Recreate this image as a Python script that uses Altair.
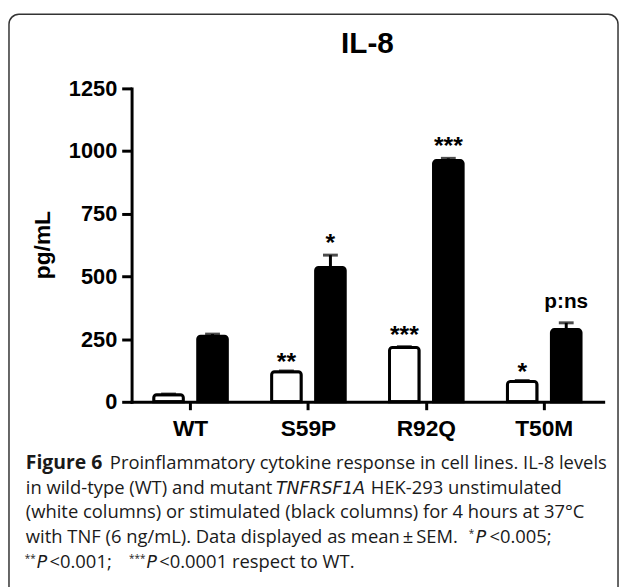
import altair as alt
import pandas as pd

# ---------------- data ----------------
categories = ["WT", "S59P", "R92Q", "T50M"]
conditions = ["Unstimulated", "Stimulated"]
unstim_mean = [28, 120, 217, 81]
unstim_sem = [3, 3, 3, 4]
stim_mean = [262, 536, 962, 288]
stim_sem = [8, 49, 9, 27]
unstim_sig = ["", "**", "***", "*"]
stim_sig = ["", "*", "***", "p:ns"]
unstim_sig_y = [0, 127, 233, 87]
stim_sig_y = [0, 603, 990, 374]
y_ticks = [0, 250, 500, 750, 1000, 1250]

rows = []
for i, c in enumerate(categories):
    rows.append(dict(cat=c, cond="Unstimulated", mean=unstim_mean[i],
                     top=unstim_mean[i] + unstim_sem[i], sig=unstim_sig[i], sig_y=unstim_sig_y[i]))
    rows.append(dict(cat=c, cond="Stimulated", mean=stim_mean[i],
                     top=stim_mean[i] + stim_sem[i], sig=stim_sig[i], sig_y=stim_sig_y[i]))
df = pd.DataFrame(rows)

W, H = 477, 317
BOLD = "Liberation Sans"
CAP = "Open Sans"
ITAL = "DejaVu Sans"

x_axis = alt.Axis(title=None, labelAngle=0)
y_axis = alt.Axis(title=None, values=y_ticks, format="d")
X = alt.X("cat:N", sort=categories, scale=alt.Scale(paddingInner=0, paddingOuter=0), axis=x_axis)
XO = alt.XOffset("cond:N", sort=conditions, scale=alt.Scale(paddingInner=0.326, paddingOuter=0.503))
yscale = alt.Scale(domain=[0, 1250], nice=False, zero=True)

base = alt.Chart(df)

bars = base.mark_bar(stroke="black", strokeWidth=3, cornerRadiusEnd=3).encode(
    x=X, xOffset=XO,
    y=alt.Y("mean:Q", scale=yscale, axis=y_axis),
    fill=alt.Fill("cond:N", scale=alt.Scale(domain=conditions, range=["white", "black"]), legend=None),
)

err = base.mark_rule(color="black", strokeWidth=3).encode(
    x=X, xOffset=XO,
    y=alt.Y("mean:Q", scale=yscale, axis=y_axis), y2="top:Q",
)

caps = base.mark_tick(color="black", thickness=3, size=15).encode(
    x=X, xOffset=XO,
    y=alt.Y("top:Q", scale=yscale, axis=y_axis),
)

stars = base.transform_filter("indexof(datum.sig, '*') >= 0").mark_text(
    font=BOLD, fontWeight="bold", fontSize=25, color="black", baseline="alphabetic", align="center"
).encode(x=X, xOffset=XO, y=alt.Y("sig_y:Q", scale=yscale, axis=y_axis), text="sig:N")

ns = base.transform_filter("datum.sig == 'p:ns'").mark_text(
    font=BOLD, fontWeight="bold", fontSize=21, color="black", baseline="alphabetic", align="center"
).encode(x=X, xOffset=XO, y=alt.Y("sig_y:Q", scale=yscale, axis=y_axis), text="sig:N")

one = alt.Data(values=[{"k": 1}])

box = alt.Chart(one).mark_rect(fillOpacity=0, stroke="#333333", strokeWidth=1.5, cornerRadius=10).encode(
    x=alt.value(-124), x2=alt.value(492), y=alt.value(-75), y2=alt.value(530)
)

title = alt.Chart(one).mark_text(text="IL-8", font=BOLD, fontWeight="bold", fontSize=30,
                                 color="black", align="center", baseline="alphabetic").encode(
    x=alt.value(W / 2), y=alt.value(-36))

ylabel = alt.Chart(one).mark_text(text="pg/mL", font=BOLD, fontWeight="bold", fontSize=23, angle=270,
                                  color="black", align="center", baseline="alphabetic").encode(
    x=alt.value(-83), y=alt.value(H / 2))

# caption segments: (text, style, page x, line index)
caption = [
    ("Figure 6", "bold", 26, 0),
    ("Proinflammatory cytokine response in cell lines. IL-8 levels", "normal", 111, 0),
    ("in wild-type (WT) and mutant", "normal", 26, 1),
    ("TNFRSF1A", "italic", 279, 1),
    ("HEK-293 unstimulated", "normal", 375, 1),
    ("(white columns) or stimulated (black columns) for 4 hours at 37°C", "normal", 26, 2),
    ("with TNF (6 ng/mL). Data displayed as mean\u2009\u00b1\u2009SEM.", "normal", 26, 3),
    ("*", "star", 474, 3),
    ("P", "italic", 481, 3),
    ("<0.005;", "normal", 495, 3),
    ("**", "star", 25, 4),
    ("P", "italic", 37, 4),
    ("<0.001;", "normal", 50, 4),
    ("***", "star", 130.5, 4),
    ("P", "italic", 148, 4),
    ("<0.0001 respect to WT.", "normal", 161, 4),
]
line_baselines = [471, 496, 521, 546, 571]
cap_layers = []
for txt, style, px, li in caption:
    kw = dict(text=txt, font=CAP, fontSize=18.6, color="#1a1a1a", align="left", baseline="alphabetic")
    if style == "bold":
        kw["fontWeight"] = "bold"
        kw["fontSize"] = 19.6
    if style == "italic":
        kw["fontStyle"] = "italic"
        kw["font"] = ITAL
        kw["fontSize"] = 17.5
    if style == "star":
        kw["fontSize"] = 10
        kw["dy"] = -6
    cap_layers.append(alt.Chart(one).mark_text(**kw).encode(
        x=alt.value(px - 133), y=alt.value(line_baselines[li] - 86)))

chart = alt.layer(box, bars, err, caps, stars, ns, title, ylabel, *cap_layers).properties(
    width=W, height=H,
    padding={"left": 125, "top": 78, "right": 16, "bottom": 184},
    autosize=alt.AutoSizeParams(type="none"),
).configure_view(stroke=None).configure_axis(
    grid=False, domainColor="black", tickColor="black", labelColor="black",
    domainWidth=3, tickWidth=3, domainCap="square",
    labelFont=BOLD, labelFontWeight="bold",
).configure_axisX(
    labelFontSize=23, tickSize=8, labelBaseline="alphabetic", labelPadding=26,
).configure_axisY(
    labelFontSize=22, tickSize=10, labelPadding=5,
)

chart.save("out.html", embed_options={"renderer": "svg", "actions": False})
